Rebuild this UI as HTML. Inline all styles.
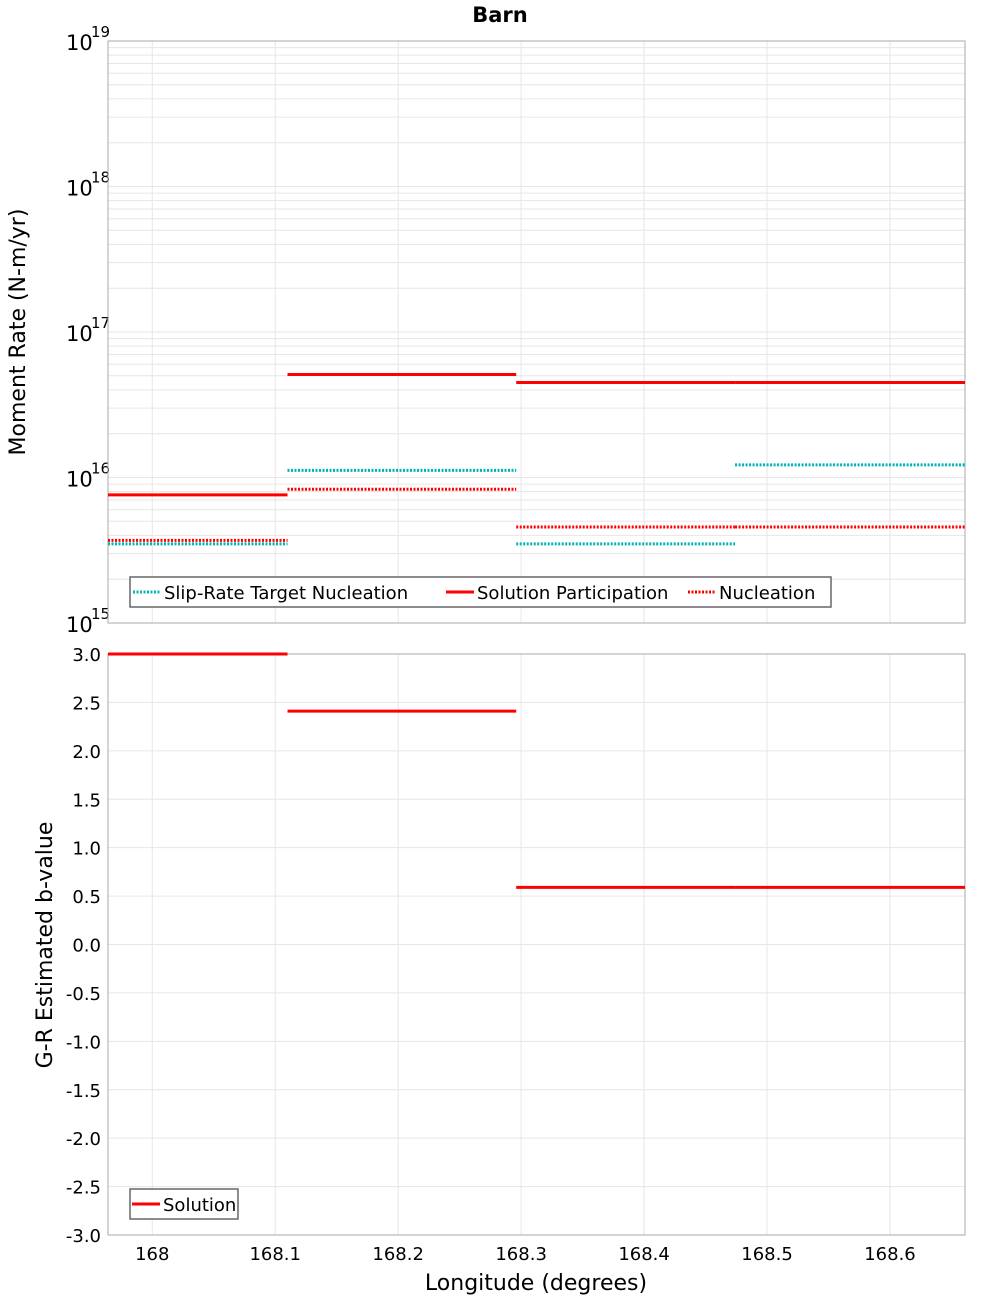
<!DOCTYPE html>
<html><head><meta charset="utf-8"><style>
body{margin:0;background:#fff}
svg{display:block;font-family:"DejaVu Sans","Liberation Sans",sans-serif}
</style></head><body>
<svg id="chart" width="1000" height="1300" viewBox="0 0 1000 1300" xmlns="http://www.w3.org/2000/svg">
<text x="500" y="22" text-anchor="middle" font-size="21" font-weight="bold">Barn</text>
<g id="topG"></g><g id="botG"></g>
<text transform="translate(25,332) rotate(-90)" text-anchor="middle" font-size="22">Moment Rate (N-m/yr)</text>
<text transform="translate(52,945) rotate(-90)" text-anchor="middle" font-size="22">G-R Estimated b-value</text>
<text x="536" y="1290" text-anchor="middle" font-size="22">Longitude (degrees)</text>
</svg>
<script>
const edges=[167.964,168.110,168.296,168.474,168.661];
const slipTarget=[3.5e15,1.12e16,3.5e15,1.22e16];
const participation=[7.6e15,5.1e16,4.5e16,4.5e16];
const nucleation=[3.7e15,8.3e15,4.57e15,4.57e15];
const bValues=[3.0,2.41,0.59,0.59];
const xTicks=[168,168.1,168.2,168.3,168.4,168.5,168.6];
const xTickLabels=["168","168.1","168.2","168.3","168.4","168.5","168.6"];
const bTicks=[3,2.5,2,1.5,1,0.5,0,-0.5,-1,-1.5,-2,-2.5,-3];
const logTicks=[15,16,17,18,19];

const NS="http://www.w3.org/2000/svg";
const L=108,R=965,TT=41,TB=623,BT=654,BB=1235;
const X0=167.964,X1=168.661;
const xs=v=>L+(v-X0)/(X1-X0)*(R-L);
const ly=v=>TB-(Math.log10(v)-15)/4*(TB-TT);
const by=v=>BB-(v+3)/6*(BB-BT);
function mk(p,t,a){const e=document.createElementNS(NS,t);for(const k in a)e.setAttribute(k,a[k]);p.appendChild(e);return e;}
const topG=document.getElementById('topG'),botG=document.getElementById('botG');
const G='#e6e6e6';
for(let d=15;d<19;d++)for(let m=1;m<10;m++){const y=ly(m*Math.pow(10,d));const g=mk(topG,'line',{x1:L,x2:R,y1:y,y2:y,stroke:G,'stroke-width':1});

}
xTicks.forEach((t,i)=>{const x=xs(t);[[topG,TT,TB],[botG,BT,BB]].forEach(([p,a,b])=>{const g=mk(p,'line',{x1:x,x2:x,y1:a,y2:b,stroke:G});

});
const lb=mk(botG,'text',{x:x,y:1260,'text-anchor':'middle','font-size':18});lb.textContent=xTickLabels[i];

});
bTicks.forEach(t=>{const y=by(t);const g=mk(botG,'line',{x1:L,x2:R,y1:y,y2:y,stroke:G});


const lb=mk(botG,'text',{x:101,y:y+7,'text-anchor':'end','font-size':18});lb.textContent=t.toFixed(1);

});
logTicks.forEach(d=>{const y=ly(Math.pow(10,d));const t=mk(topG,'text',{x:66,y:y+9,'font-size':21});t.textContent='10';


const s=mk(topG,'text',{x:91,y:y-4,'font-size':15});s.textContent=String(d);

});
[[topG,TT,TB],[botG,BT,BB]].forEach(([p,a,b])=>{const f=mk(p,'rect',{x:L,y:a,width:R-L,height:b-a,fill:'none',stroke:'#aaa'});

});
function series(p,vals,yf,color,dash,name,w){vals.forEach((v,i)=>{const y=yf(v);const l=mk(p,'line',{x1:xs(edges[i]),x2:xs(edges[i+1]),y1:y,y2:y,stroke:color,'stroke-width':w||3});if(dash)l.setAttribute('stroke-dasharray',dash);

});}
series(topG,slipTarget,ly,'#00b4b4','2 1.5','slip-rate-target-segment');
series(topG,participation,ly,'#ff0000',null,'participation-segment');
series(topG,nucleation,ly,'#ff0000','2 1.5','nucleation-segment');
series(botG,bValues,by,'#ff0000',null,'b-value-segment');
function legend(p,x,y,w,items){const r=mk(p,'rect',{x:x,y:y,width:w,height:30,fill:'#fff',stroke:'#666','stroke-width':1.5});


items.forEach(it=>{const l=mk(p,'line',{x1:it[0],x2:it[0]+28,y1:y+15,y2:y+15,stroke:it[2],'stroke-width':3});if(it[3])l.setAttribute('stroke-dasharray',it[3]);


const t=mk(p,'text',{x:it[0]+31,y:y+22,'font-size':18});t.textContent=it[1];

});}
legend(topG,130,577,701,[[133,'Slip-Rate Target Nucleation','#00b4b4','2 1.5'],[446,'Solution Participation','#ff0000'],[688,'Nucleation','#ff0000','2 1.5']]);
legend(botG,130,1189,108,[[132,'Solution','#ff0000']]);
</script>
</body></html>
